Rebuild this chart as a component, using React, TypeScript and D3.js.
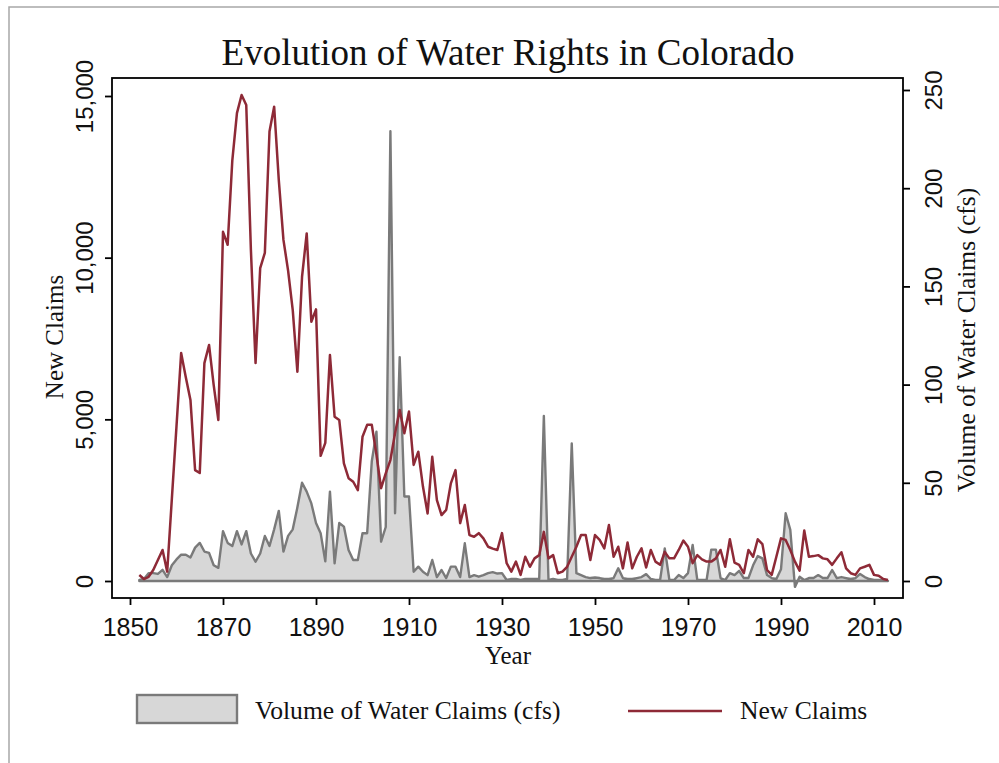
import React, { useRef, useEffect } from "react";
import { select, scaleLinear, line, area, axisBottom, axisLeft, axisRight, format, range } from "d3";

// yearly series, 1852-2013
const years: number[] = range(1852, 2014);

const newClaims: number[] = [
  185, 60, 130, 340, 650, 960, 290, 2540, 4790, 7050,
  6300, 5600, 3430, 3340, 6740, 7300, 6060, 4980, 10800, 10400,
  13000, 14470, 15030, 14720, 10240, 6740, 9680, 10150, 13900, 14670,
  12400, 10550, 9600, 8380, 6470, 9410, 10750, 8020, 8400, 3870,
  4270, 6990, 5080, 4980, 3640, 3180, 3070, 2810, 4460, 4830,
  4830, 3900, 2870, 3330, 3740, 4570, 5290, 4570, 5240, 3590,
  4000, 2920, 2090, 3840, 2500, 2040, 2200, 3020, 3430, 1790,
  2350, 1420, 1370, 1480, 1320, 1060, 1000, 960, 1480, 550,
  290, 600, 190, 750, 440, 700, 800, 1520, 700, 800,
  240, 290, 440, 750, 1060, 1420, 1420, 650, 1420, 1270,
  1010, 1730, 750, 1060, 390, 1190, 390, 750, 1010, 420,
  960, 600, 500, 900, 700, 700, 960, 1250, 1060, 550,
  800, 670, 600, 600, 700, 960, 440, 1290, 570, 500,
  240, 960, 750, 1290, 1140, 340, 190, 750, 1320, 1270,
  960, 600, 320, 1560, 750, 770, 800, 700, 670, 500,
  700, 890, 390, 240, 190, 390, 440, 500, 190, 160,
  60, 30,
];

const volumeCfs: number[] = [
  0.5, 1, 4, 4, 3.6, 5.7, 2, 8, 11, 13.4,
  13.4, 12, 17, 19.4, 15, 14.3, 8, 6.7, 25.4, 19.4,
  17.8, 25.4, 18.6, 25.4, 14, 9.8, 14, 22.9, 17.8, 26.3,
  35.7, 15, 23, 26.3, 37.5, 50, 45.5, 39.5, 29.5, 24.3,
  10, 45.5, 9, 29.5, 27.7, 15.8, 10.7, 10.7, 24.3, 24.3,
  61, 76, 20, 27.5, 229, 34.5, 114, 43, 43, 4.7,
  7.3, 4.7, 3, 10.7, 2, 5.6, 1.5, 7.3, 7.3, 2,
  19.2, 2, 3, 2.2, 3, 4, 4.5, 3.8, 4, 0.5,
  1, 1, 0.5, 1, 1, 1, 1, 84, 0.5, 1,
  0.5, 0.5, 1, 70, 4, 3, 2, 1.5, 1.8, 1.5,
  1, 1, 1.5, 6.5, 1.5, 1, 1, 1.5, 2, 3.5,
  1, 0.5, 0.5, 16.6, 0.5, 0.5, 3, 1.5, 4, 18.4,
  0.5, 0.5, 0.5, 16, 16, 1.5, 0.5, 4, 3, 5.2,
  1.5, 1.5, 8, 12.7, 11.5, 3, 1.5, 1, 6, 34.5,
  26, -3, 2.2, 0.5, 1.5, 1.5, 3, 1.5, 1.5, 5.6,
  1.5, 2, 1.5, 1, 1.5, 3.6, 2, 1, 0.5, 0.5,
  0.5, 0,
];

const yearTicks = [1850, 1870, 1890, 1910, 1930, 1950, 1970, 1990, 2010];
const claimTicks = [0, 5000, 10000, 15000];
const volumeTicks = [0, 50, 100, 150, 200, 250];

const W = 999;
const H = 763;
const frame = { left: 112, right: 903, top: 78, bottom: 598 };

const RED = "#8e2a37";
const GREY_LINE = "#7a7a7a";
const GREY_FILL = "#d7d7d7";
const SANS = "'Liberation Sans', Arial, sans-serif";
const SERIF = "'Liberation Serif', 'Times New Roman', serif";

const App: React.FC = () => {
  const svgRef = useRef<SVGSVGElement>(null);

  useEffect(() => {
    const svg = select(svgRef.current);
    svg.selectAll("*").remove();

    const x = scaleLinear().domain([1850, 2010]).range([130, 874]);
    const yClaims = scaleLinear().domain([0, 15000]).range([581, 96]);
    const yVol = scaleLinear().domain([0, 250]).range([581, 90]);

    // outer page border
    svg
      .append("path")
      .attr("d", `M9,${H} V7 H${W}`)
      .attr("fill", "none")
      .attr("stroke", "#a8a8a8")
      .attr("stroke-width", 1.5);

    // title
    svg
      .append("text")
      .attr("x", 508)
      .attr("y", 65)
      .attr("text-anchor", "middle")
      .attr("font-family", SERIF)
      .attr("font-size", 37)
      .attr("fill", "#111")
      .text("Evolution of Water Rights in Colorado");

    // volume area
    const areaGen = area<number>()
      .x((_, i) => x(years[i]))
      .y0(yVol(0))
      .y1((d) => yVol(d));
    svg
      .append("path")
      .datum(volumeCfs)
      .attr("fill", GREY_FILL)
      .attr("stroke", GREY_LINE)
      .attr("stroke-width", 2.4)
      .attr("stroke-linejoin", "round")
      .attr("d", areaGen);

    // new claims line
    const lineGen = line<number>()
      .x((_, i) => x(years[i]))
      .y((d) => yClaims(d));
    svg
      .append("path")
      .datum(newClaims)
      .attr("fill", "none")
      .attr("stroke", RED)
      .attr("stroke-width", 2.5)
      .attr("stroke-linejoin", "round")
      .attr("d", lineGen);

    // plot frame
    svg
      .append("rect")
      .attr("x", frame.left)
      .attr("y", frame.top)
      .attr("width", frame.right - frame.left)
      .attr("height", frame.bottom - frame.top)
      .attr("fill", "none")
      .attr("stroke", "#000")
      .attr("stroke-width", 1.8);

    // axes
    const xAxisG = svg
      .append("g")
      .attr("transform", `translate(0,${frame.bottom})`)
      .call(axisBottom(x).tickValues(yearTicks).tickFormat(format("d")).tickSize(7).tickSizeOuter(0));
    xAxisG.selectAll("text").attr("y", 38).attr("dy", null).attr("font-size", 25);

    const leftG = svg
      .append("g")
      .attr("transform", `translate(${frame.left},0)`)
      .call(axisLeft(yClaims).tickValues(claimTicks).tickFormat(format(",")).tickSize(7).tickSizeOuter(0));
    leftG
      .selectAll("text")
      .attr("x", null)
      .attr("dy", null)
      .attr("text-anchor", "middle")
      .attr("transform", "translate(-19,0) rotate(-90)")
      .attr("font-size", 24);

    const rightG = svg
      .append("g")
      .attr("transform", `translate(${frame.right},0)`)
      .call(axisRight(yVol).tickValues(volumeTicks).tickSize(7).tickSizeOuter(0));
    rightG
      .selectAll("text")
      .attr("x", null)
      .attr("dy", null)
      .attr("text-anchor", "middle")
      .attr("transform", "translate(39,0) rotate(-90)")
      .attr("font-size", 24);

    [xAxisG, leftG, rightG].forEach((g) => {
      g.select(".domain").remove();
      g.selectAll("line").attr("stroke", "#000").attr("stroke-width", 1.8);
      g.selectAll("text").attr("fill", "#111").attr("font-family", SANS);
    });

    // axis titles
    svg
      .append("text")
      .attr("transform", "translate(63,337) rotate(-90)")
      .attr("text-anchor", "middle")
      .attr("font-family", SERIF)
      .attr("font-size", 25)
      .attr("fill", "#111")
      .text("New Claims");
    svg
      .append("text")
      .attr("transform", "translate(975,340) rotate(-90)")
      .attr("text-anchor", "middle")
      .attr("font-family", SERIF)
      .attr("font-size", 25.5)
      .attr("fill", "#111")
      .text("Volume of Water Claims (cfs)");
    svg
      .append("text")
      .attr("x", 508)
      .attr("y", 664)
      .attr("text-anchor", "middle")
      .attr("font-family", SERIF)
      .attr("font-size", 25)
      .attr("fill", "#111")
      .text("Year");

    // legend
    const legend = svg.append("g");
    legend
      .append("rect")
      .attr("x", 137)
      .attr("y", 695)
      .attr("width", 100)
      .attr("height", 28)
      .attr("fill", GREY_FILL)
      .attr("stroke", GREY_LINE)
      .attr("stroke-width", 2.4);
    legend
      .append("text")
      .attr("x", 255)
      .attr("y", 719)
      .attr("font-family", SERIF)
      .attr("font-size", 25.6)
      .attr("fill", "#111")
      .text("Volume of Water Claims (cfs)");
    legend
      .append("line")
      .attr("x1", 628)
      .attr("x2", 722)
      .attr("y1", 711)
      .attr("y2", 711)
      .attr("stroke", RED)
      .attr("stroke-width", 2.5);
    legend
      .append("text")
      .attr("x", 740)
      .attr("y", 719)
      .attr("font-family", SERIF)
      .attr("font-size", 25.6)
      .attr("fill", "#111")
      .text("New Claims");
  }, []);

  return (
    <svg
      ref={svgRef}
      width={W}
      height={H}
      viewBox={`0 0 ${W} ${H}`}
      style={{ position: "absolute", left: 0, top: 0, background: "#fff" }}
    />
  );
};

export default App;
